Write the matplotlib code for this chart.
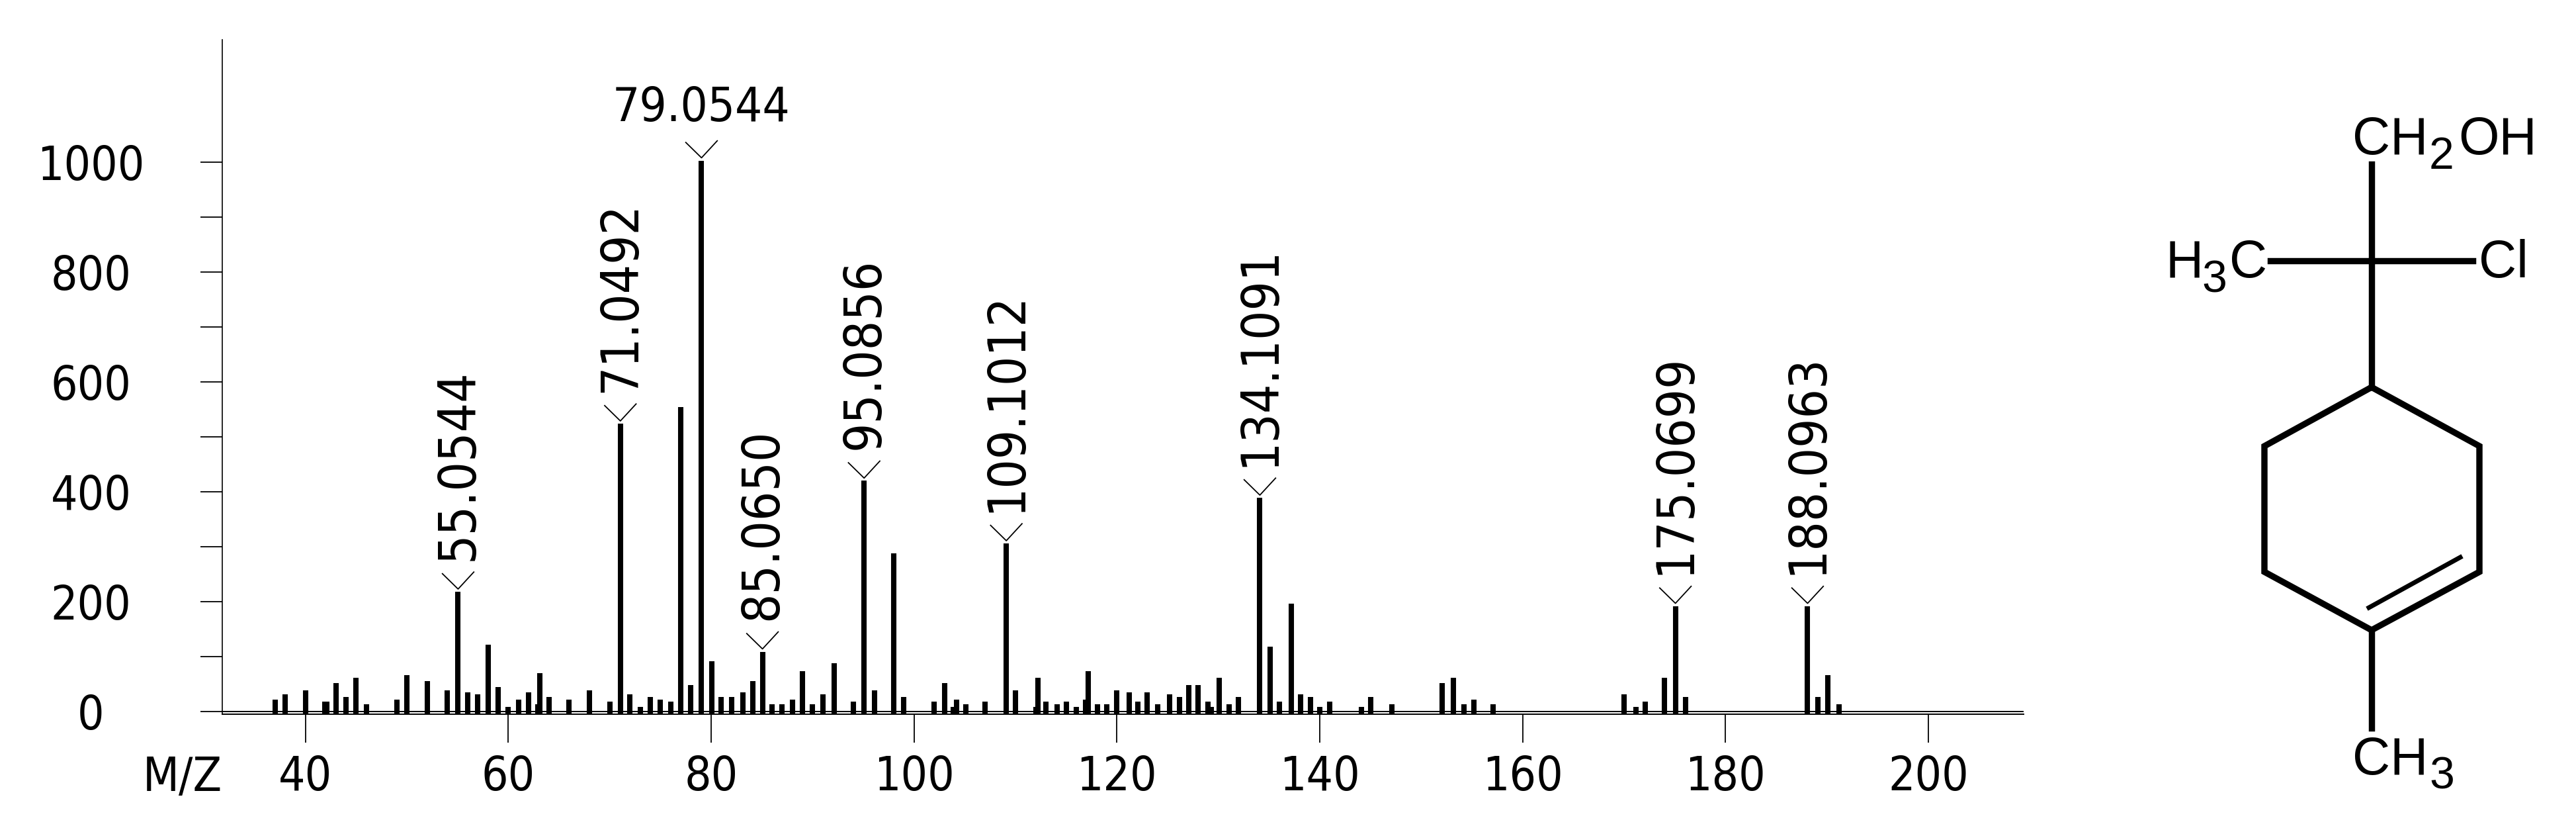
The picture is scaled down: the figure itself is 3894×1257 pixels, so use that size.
import matplotlib.pyplot as plt

# spectrum
mz = [37, 38, 40, 41.9, 42.1, 43, 44, 45, 46, 49, 50, 52, 54, 55.05, 56, 57, 58, 59, 60, 61, 62,
      62.9, 63.1, 64, 66, 68, 70, 71.05, 72, 73, 74, 75, 76, 77, 78, 79.05, 80.09, 81, 82, 83.1,
      84.1, 85.06, 86, 87, 88, 89, 90, 91, 92.1, 94, 95.08, 96.1, 98, 99, 102, 103, 103.9, 104.2,
      105.1, 107, 109.1, 110, 112, 112.2, 113, 114.1, 115, 116, 116.9, 117.15, 118.1, 119, 120,
      121.2, 122.1, 123, 124, 125.2, 126.2, 127.1, 128, 129, 129.3, 130.1, 131.1, 132, 134.1,
      135.1, 136, 137.2, 138.1, 139.1, 140, 141, 144.1, 145, 147.1, 152.1, 153.2, 154.2, 155.2,
      157.1, 170, 171.2, 172.1, 174, 175.07, 176.1, 188.1, 189.1, 190.1, 191.2]
intensity = [22, 31, 39, 18, 18, 52, 26, 61, 13, 22, 66, 56, 39, 218, 35, 31, 122, 44, 9, 22, 35,
             13, 70, 26, 22, 39, 18, 524, 31, 9, 26, 22, 18, 554, 48, 1003, 92, 26, 26, 35,
             56, 109, 13, 13, 22, 74, 13, 31, 88, 18, 420, 39, 288, 26, 18, 52, 9, 22,
             13, 18, 306, 39, 9, 61, 18, 13, 18, 9, 22, 74, 13, 13, 39,
             35, 18, 35, 13, 31, 26, 48, 48, 18, 9, 61, 13, 26, 389,
             118, 18, 196, 31, 26, 9, 18, 9, 26, 13, 52, 61, 13, 22,
             13, 31, 9, 18, 61, 192, 26, 192, 26, 66, 13]

peak_labels = ['55.0544', '71.0492', '79.0544', '85.0650', '95.0856', '109.1012',
               '134.1091', '175.0699', '188.0963']
peak_mz = [55.05, 71.05, 79.05, 85.06, 95.08, 109.1, 134.1, 175.07, 188.1]
peak_top = [218, 524, 1003, 109, 420, 306, 389, 192, 192]

# structure drawing, figure pixels
bonds = [[(3585, 248), (3585, 585)],
         [(3432, 394), (3738, 394)],
         [(3585, 585), (3748, 674), (3748, 864), (3585, 952), (3423, 864), (3423, 674), (3585, 585)],
         [(3585, 952), (3585, 1100)]]
inner_bond = [(3581, 918), (3719, 842)]
atoms = [('CH', 3556, 233), ('OH', 3716, 233), ('H', 3274, 419), ('C', 3370, 419),
         ('Cl', 3747, 419), ('CH', 3556, 1170)]
subscripts = [('2', 3672, 255), ('3', 3328, 441), ('3', 3672, 1192)]

W, H = 3894, 1257
fig = plt.figure(figsize=(W / 100, H / 100), dpi=100)

left, right, top, bottom = 336, 3059, 60, 1079
ax = fig.add_axes([left / W, 1 - bottom / H, (right - left) / W, (bottom - top) / H])
ax.set_xlim(31.8, 209.4)
ax.set_ylim(-4.8, 1223)

ax.vlines(mz, -4, intensity, color='black', lw=5.8)
ax.axhline(0, color='black', lw=1.4)

for sp in ['top', 'right']:
    ax.spines[sp].set_visible(False)
ax.spines['left'].set_linewidth(1.2)
ax.spines['bottom'].set_linewidth(1.4)

font = dict(family='DejaVu Sans', stretch='condensed')
ax.set_xticks(range(40, 201, 20))
ax.set_yticks(range(0, 1001, 200))
ax.set_yticks(range(100, 1000, 200), minor=True)
ax.tick_params(axis='x', length=31, width=1.3, pad=13)
ax.tick_params(axis='y', which='both', length=24, width=1.3, pad=119)
for t in ax.get_xticklabels():
    t.set(fontsize=51, **font)
for t in ax.get_yticklabels():
    t.set(fontsize=51, ha='center', **font)

# caret and m/z label over each picked peak
for m, v, s in zip(peak_mz, peak_top, peak_labels):
    ax.plot([m - 1.55, m, m + 1.55], [v + 33, v + 5, v + 36], color='black', lw=1.3)
    if s == '79.0544':
        ax.text(m, v + 54, s, ha='center', va='bottom', fontsize=52, **font)
    else:
        ax.text(m, v + 57, s, ha='center', va='bottom', rotation=90, fontsize=56, **font)

fig.text(336 / W, 1 - 1195 / H, 'M/Z', ha='right', va='baseline', fontsize=51, **font)

# structure in a full figure overlay
ax2 = fig.add_axes([0, 0, 1, 1])
ax2.set_xlim(0, W)
ax2.set_ylim(H, 0)
ax2.axis('off')
for b in bonds:
    ax2.plot([p[0] for p in b], [p[1] for p in b], color='black', lw=6.8, solid_joinstyle='miter')
ax2.plot([p[0] for p in inner_bond], [p[1] for p in inner_bond], color='black', lw=5)
for s, x, y in atoms:
    ax2.text(x, y, s, fontsize=57, family='Liberation Sans', ha='left', va='baseline')
for s, x, y in subscripts:
    ax2.text(x, y, s, fontsize=49, family='Liberation Sans', ha='left', va='baseline')

fig.savefig('out.png', dpi=100, facecolor='white')
